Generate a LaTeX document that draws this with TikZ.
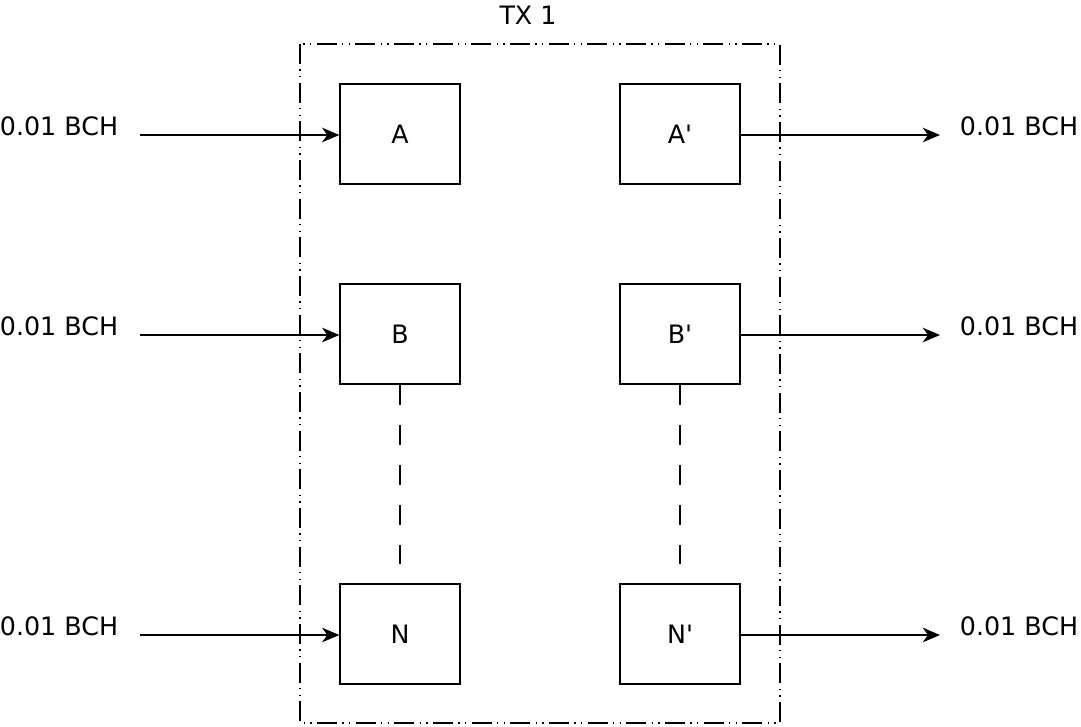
\documentclass[tikz,border=0pt]{standalone}
\usepackage{fontspec}
\setmainfont{DejaVu Sans}
\usetikzlibrary{arrows.meta}
\begin{document}
\begin{tikzpicture}[x=0.75pt,y=-0.75pt,
  every node/.style={font=\fontsize{19pt}{22pt}\selectfont},
  blk/.style={draw,line width=1pt,minimum width=90pt,minimum height=75pt,inner sep=0pt},
  lbl/.style={inner sep=0pt,anchor=center},
  arr/.style={line width=1pt,-{Stealth[length=13pt 0,width=11pt 0,inset=4pt 0]}},
  dsh/.style={line width=1pt,dash pattern=on 15pt off 15pt},
  frame/.style={line width=1pt,dash pattern=on 15pt off 4pt on 1pt off 4pt on 1pt off 4pt}]
\useasboundingbox (0,0) rectangle (1081,726);
\draw[frame] (300,44) rectangle (780,723);
\node[lbl] (tx) at (528,15) {TX 1};
\node[blk] (A) at (400,134) {A};
\node[blk] (Ap) at (680,134) {A\textquotesingle};
\node[blk] (B) at (400,334) {B};
\node[blk] (Bp) at (680,334) {B\textquotesingle};
\node[blk] (N) at (400,634) {N};
\node[blk] (Np) at (680,634) {N\textquotesingle};
\node[lbl] (la) at (59,126) {0.01 BCH};
\node[lbl] (lb) at (59,326) {0.01 BCH};
\node[lbl] (ln) at (59,626) {0.01 BCH};
\node[lbl] (ra) at (1019,126) {0.01 BCH};
\node[lbl] (rb) at (1019,326) {0.01 BCH};
\node[lbl] (rn) at (1019,626) {0.01 BCH};
\coordinate (ia) at (140,135);
\coordinate (ib) at (140,335);
\coordinate (in) at (140,635);
\coordinate (oa) at (940,135);
\coordinate (ob) at (940,335);
\coordinate (on) at (940,635);
\draw[arr] (ia) -- (A.west |- ia);
\draw[arr] (ib) -- (B.west |- ib);
\draw[arr] (in) -- (N.west |- in);
\draw[arr] (Ap.east |- oa) -- (oa);
\draw[arr] (Bp.east |- ob) -- (ob);
\draw[arr] (Np.east |- on) -- (on);
\coordinate (de) at (400,564);
\coordinate (dpe) at (680,564);
\draw[dsh] (B.south) -- (de);
\draw[dsh] (Bp.south) -- (dpe);
\end{tikzpicture}
\end{document}
